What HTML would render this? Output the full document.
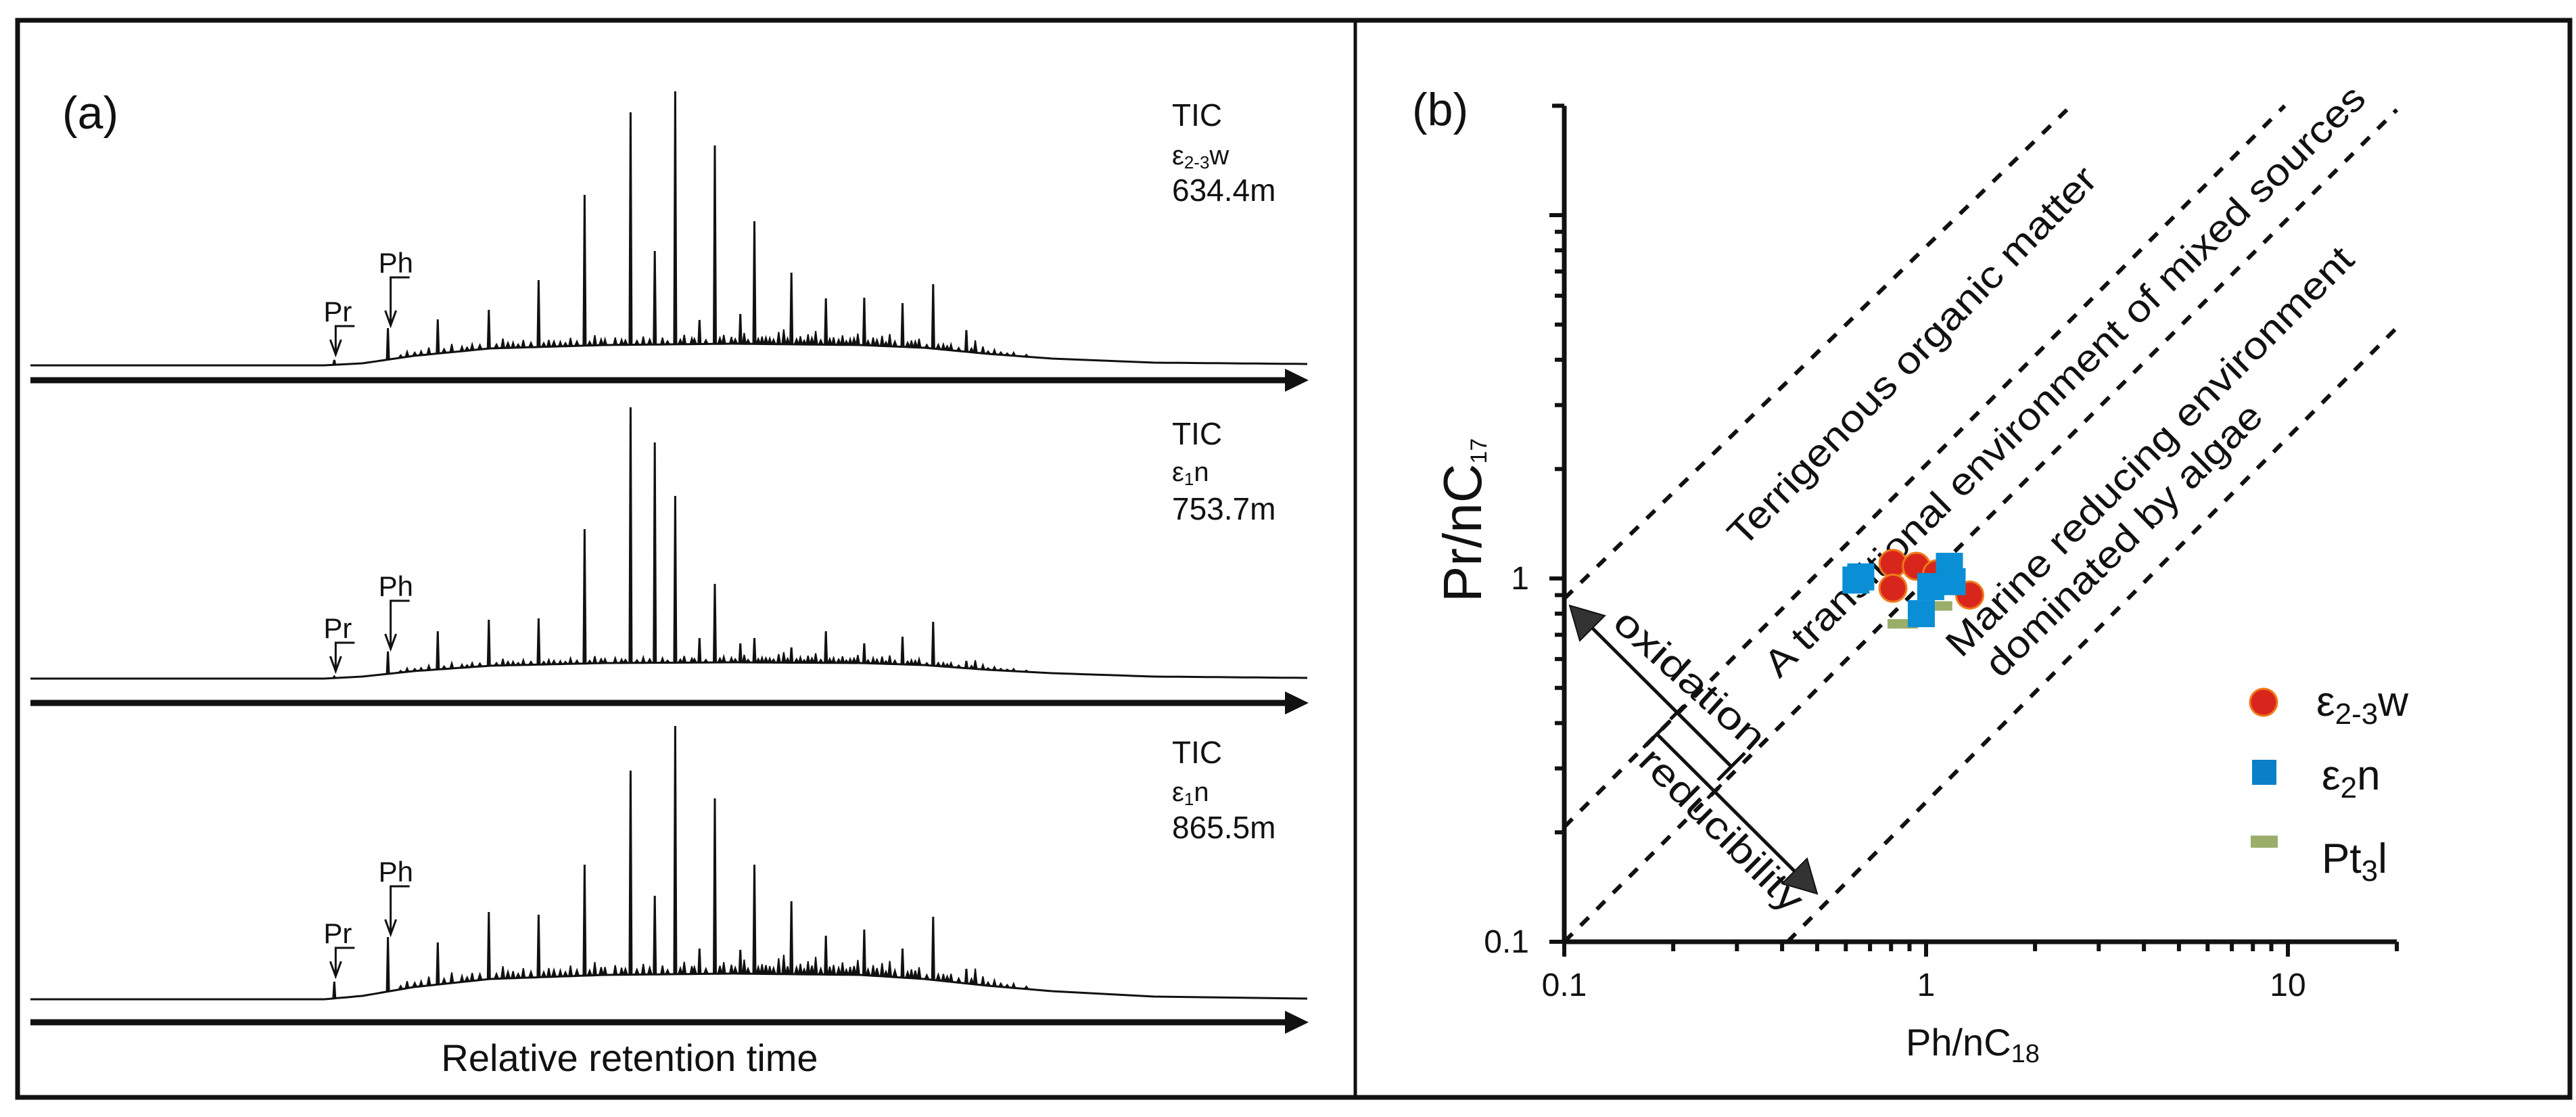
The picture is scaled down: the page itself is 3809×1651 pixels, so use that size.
<!DOCTYPE html>
<html><head><meta charset="utf-8">
<style>
html,body{margin:0;padding:0;background:#fff;}
svg{display:block;}
text{font-family:"Liberation Sans",Arial,sans-serif;fill:#111;}
.nar{font-family:"Liberation Sans Narrow","Liberation Sans",sans-serif;}
</style></head>
<body>
<svg id="fig" width="3809" height="1651" viewBox="0 0 3809 1651" xmlns="http://www.w3.org/2000/svg">
<rect x="26" y="30" width="3774" height="1592" fill="none" stroke="#111" stroke-width="7"/>
<line x1="2004" y1="30" x2="2004" y2="1622" stroke="#111" stroke-width="5"/>
<text x="92" y="190" font-size="68">(a)</text>
<text x="2088" y="185" font-size="68">(b)</text>
<g id="chroms"></g>
<g class="nar">
<text x="1733" y="186" font-size="46">TIC</text>
<text x="1733" y="243" font-size="40">ε<tspan font-size="26" dy="6">2-3</tspan><tspan dy="-6">w</tspan></text>
<text x="1733" y="297" font-size="46">634.4m</text>
<text x="1733" y="657" font-size="46">TIC</text>
<text x="1733" y="711" font-size="40">ε<tspan font-size="26" dy="6">1</tspan><tspan dy="-6">n</tspan></text>
<text x="1733" y="768" font-size="46">753.7m</text>
<text x="1733" y="1128" font-size="46">TIC</text>
<text x="1733" y="1184" font-size="40">ε<tspan font-size="26" dy="6">1</tspan><tspan dy="-6">n</tspan></text>
<text x="1733" y="1239" font-size="46">865.5m</text>
</g>
<text x="931" y="1583" font-size="56" text-anchor="middle" class="nar">Relative retention time</text>
<g id="plotb"></g>
</svg>
<script>
// ---------- Panel (a) data ----------
const alkaneRt = [31.9,35.9,39.8,43.4,47.0,48.9,50.5,52.4,53.6,55.6,56.7,59.6,62.3,65.3,68.3,70.7,73.3];
const alkaneH1 = [68,82,126,252,374,169,405,67,325,76,213,137,99,100,92,120,52];
const alkaneH2 = [70,87,89,221,401,349,270,60,140,52,60,46,70,52,62,84,26];
const alkaneH3 = [84,129,125,199,338,153,404,75,297,73,199,145,94,103,75,122,45];
const prRt = 23.8, phRt = 28.0;
const prH = [8,3,26];
const phH = [55,40,92];
const humpRt = [0,23,26,30,36,45,55,65,70,75,80,88,100];
const humpH1 = [0,0,3,14,25,30,32,30,26,17,10,4,2];
const humpH2 = [0,0,3,11,19,23,24,23,20,13,8,3,1];
const humpH3 = [0,0,5,18,30,36,38,36,30,20,12,4,1];
const minorRt = [29.5,30.6,31.2,33.0,33.8,34.6,37.0,37.8,38.6,40.6,41.5,42.3,44.2,45.0,45.8,46.3,48.0,49.5,51.2,51.8,54.3,54.9,55.9,57.3,57.9,58.6,59.0,60.3,60.9,61.5,62.9,63.6,64.2,64.8,66.0,66.7,67.3,69.0,69.6,71.5,72.1,74.0,74.6,75.5,77.0];
const minorH = [8,6,10,12,7,9,14,8,11,10,7,12,15,9,11,8,12,10,14,9,13,10,16,11,9,18,22,12,15,20,11,14,9,17,12,15,18,10,13,8,9,18,10,7,5];
const noiseRt = [29.0,30.1,32.4,34.2,35.2,36.5,37.4,38.2,39.2,40.2,41.0,41.9,42.8,43.8,44.7,46.6,47.5,48.5,49.9,50.9,52.0,52.9,54.0,55.2,56.2,57.0,57.6,58.2,59.3,60.0,60.6,61.2,61.9,62.6,63.3,63.9,64.5,65.6,66.3,67.0,67.7,68.7,69.3,70.2,71.1,71.8,72.7,73.7,75.0,76.0,76.5,78.0];
const noiseH = [4,5,6,5,7,6,8,5,7,6,8,5,7,6,9,7,6,8,5,7,8,6,9,7,6,8,10,7,9,8,6,10,7,9,8,6,10,7,9,6,8,7,9,5,7,6,5,6,4,4,3,3];
const minorScale = [1.0,0.7,1.3];

// ---------- Panel (b) data ----------
const w23Ph = [0.81,0.94,0.81,1.07,1.32];
const w23Pr = [1.10,1.08,0.94,1.03,0.90];
const e2nPh = [0.66,0.64,1.16,1.03,0.97,1.18];
const e2nPr = [1.01,0.99,1.08,0.95,0.80,0.98];
const pt3Ph = [0.86,1.07];
const pt3Pr = [0.75,0.84];
const lineX1 = [0.1,0.1,0.1,0.414];
const lineY1 = [0.88,0.207,0.1,0.1];
const lineX2 = [2.45,9.8,20,20];
const lineY2 = [19.5,20,19.5,4.9];
const xTickLabels = ["0.1","1","10"];
const yTickLabels = ["0.1","1"];

const NS = "http://www.w3.org/2000/svg";
function mk(tag, attrs, parent){
  const e = document.createElementNS(NS, tag);
  for (const k in attrs) e.setAttribute(k, attrs[k]);
  parent.appendChild(e); return e;
}

// ---- chromatograms ----
const chroms = document.getElementById('chroms');
const baseY = [540,1003,1477];
const arrowY = [562,1039,1511];
const alk = [alkaneH1,alkaneH2,alkaneH3];
const humps = [humpH1,humpH2,humpH3];
function rx(t){ return 45 + t*18.88; }
function humpAt(p,t){
  const h = humps[p];
  for (let i=0;i<humpRt.length-1;i++){
    if (t>=humpRt[i] && t<=humpRt[i+1]){
      const f=(t-humpRt[i])/(humpRt[i+1]-humpRt[i]);
      return h[i]+f*(h[i+1]-h[i]);
    }
  }
  return 0;
}
for (let p=0;p<3;p++){
  const by = baseY[p];
  let d = "M"+rx(0)+","+by;
  for (let t=0;t<=100;t+=0.5){ d += " L"+rx(t).toFixed(1)+","+(by-humpAt(p,t)).toFixed(1); }
  const hp = mk('path',{d:d,fill:'none',stroke:'#111','stroke-width':3},chroms);
  
  
  let pd = "";
  function spike(t,h,w){
    const x=rx(t), yb=by-humpAt(p,t);
    pd += " M"+(x-w).toFixed(1)+","+yb.toFixed(1)+" L"+x.toFixed(1)+","+(by-h).toFixed(1)+" L"+(x+w).toFixed(1)+","+yb.toFixed(1);
  }
  for (let i=0;i<minorRt.length;i++){ spike(minorRt[i], humpAt(p,minorRt[i])+minorH[i]*minorScale[p], 2.5); }
  for (let i=0;i<noiseRt.length;i++){ spike(noiseRt[i], humpAt(p,noiseRt[i])+noiseH[i]*minorScale[p], 3); }
  const mp = mk('path',{d:pd,fill:'#111',stroke:'#111','stroke-width':2},chroms);
  
  
  pd = "";
  for (let i=0;i<alkaneRt.length;i++){ spike(alkaneRt[i], alk[p][i], 1.5); }
  spike(prRt, prH[p], 1.5); spike(phRt, phH[p], 1.5);
  const ap = mk('path',{d:pd,fill:'#111',stroke:'#111','stroke-width':3},chroms);
  
  
  const ay = arrowY[p];
  const al = mk('line',{x1:45,y1:ay,x2:1905,y2:ay,stroke:'#111','stroke-width':9},chroms);
  
  
  const ah = mk('path',{d:"M1900,"+(ay-17)+" L1935,"+ay+" L1900,"+(ay+17)+" z",fill:'#111'},chroms);
  
  
  const prX = rx(prRt)+2, phX = rx(phRt)+4;
  const prTopY = by-prH[p]-50, phTopY = by-phH[p]-75;
  const prTip = by - prH[p] - 8, phTip = by - phH[p] - 4;
  const labs = [["Pr",prX,prTopY,prTip],["Ph",phX,phTopY,phTip]];
  for (const L of labs){
    const t = mk('text',{x:L[1]-18,y:L[2]-7,'font-size':42,class:'nar'},chroms);
    t.textContent = L[0];
    
    
    const bp = mk('path',{d:"M"+(L[1]+28)+","+L[2]+" L"+L[1]+","+L[2]+" L"+L[1]+","+L[3]+" M"+(L[1]-8)+","+(L[3]-22)+" L"+L[1]+","+L[3]+" L"+(L[1]+8)+","+(L[3]-22),fill:'none',stroke:'#111','stroke-width':3},chroms);
    
    
  }
}

// ---- crossplot ----
const g = document.getElementById('plotb');
const X0=2313, Y0=1392, DX=535, DY=537;
function xs(v){ return X0 + (Math.log10(v)+1)*DX; }
function ys(v){ return Y0 - (Math.log10(v)+1)*DY; }
for (let i=0;i<lineX1.length;i++){
  const l = mk('line',{x1:xs(lineX1[i]),y1:ys(lineY1[i]),x2:xs(lineX2[i]),y2:ys(lineY2[i]),stroke:'#111','stroke-width':6,'stroke-dasharray':'17 17'},g);
  
  
}
const ax = mk('path',{d:"M"+X0+","+ys(20)+" L"+X0+","+Y0+" L"+xs(20)+","+Y0,fill:'none',stroke:'#111','stroke-width':7},g);


let tk="";
for (let dec=0.1; dec<=10; dec*=10){
  for (let m=1;m<=9;m++){
    const v=dec*m; if (v>20.01) break;
    const xL = (m===1)?22:14;
    tk += " M"+xs(v).toFixed(1)+","+Y0+" l0,"+xL;
    tk += " M"+X0+","+ys(v).toFixed(1)+" l-"+xL+",0";
  }
}
tk += " M"+xs(20)+","+Y0+" l0,14 M"+X0+","+ys(20)+" l-18,0";
const tp = mk('path',{d:tk,stroke:'#111','stroke-width':6,fill:'none'},g);


const xTickVals=[0.1,1,10];
for (let i=0;i<xTickLabels.length;i++){
  const t=mk('text',{x:xs(xTickVals[i]),y:Y0+80,'font-size':48,'text-anchor':'middle'},g);
  t.textContent=xTickLabels[i];
  
  
}
const yTickVals=[0.1,1];
for (let i=0;i<yTickLabels.length;i++){
  const t=mk('text',{x:X0-52,y:ys(yTickVals[i])+16,'font-size':48,'text-anchor':'end'},g);
  t.textContent=yTickLabels[i];
  
  
}
const xt=mk('text',{x:2818,y:1560,'font-size':56},g);
xt.innerHTML='Ph/nC<tspan font-size="38" dy="10">18</tspan>';


const yt=mk('text',{x:2190,y:890,'font-size':80,transform:'rotate(-90 2190 890)'},g);
yt.innerHTML='Pr/nC<tspan font-size="34" dy="8">17</tspan>';


const regions=[["Terrigenous organic matter",2578,811,3104,268],["A transitional environment of mixed sources",2631,1004,3501,149],["Marine reducing environment",2900,974,3484,387],["dominated by algae",2958,1004,3349,619],["oxidation",2382,925,2590,1112],["reducibility",2420,1128,2645,1352]];
for (const r of regions){
  const dx=r[3]-r[1], dy=r[4]-r[2];
  const ang=Math.atan2(dy,dx)*180/Math.PI, len=Math.hypot(dx,dy);
  const t=mk('text',{x:r[1],y:r[2],'font-size':56,textLength:len.toFixed(0),lengthAdjust:'spacingAndGlyphs',transform:'rotate('+ang.toFixed(2)+' '+r[1]+' '+r[2]+')'},g);
  t.textContent=r[0];
  
  
}
const ar = mk('path',{d:"M2323,897 L2560,1133 M2540,1153 L2580,1113 M2470,1063 L2490,1043 M2450,1085 L2683,1317 M2430,1105 L2470,1065 M2525,1180 L2545,1160",stroke:'#111','stroke-width':5,fill:'none'},g);


const ah1 = mk('path',{d:"M2321,895 L2336,947 L2373,910 z",fill:'#333',stroke:'#111','stroke-width':2},g);


const ah2 = mk('path',{d:"M2687,1321 L2672,1269 L2635,1306 z",fill:'#333',stroke:'#111','stroke-width':2},g);


for (let i=0;i<pt3Ph.length;i++){
  const r=mk('rect',{x:xs(pt3Ph[i])-22,y:ys(pt3Pr[i])-7,width:45,height:14,fill:'#9aae6a'},g);
  
  
}
for (let i=0;i<w23Ph.length;i++){
  const c=mk('circle',{cx:xs(w23Ph[i]),cy:ys(w23Pr[i]),r:20,fill:'#d9261c',stroke:'#f07a1a','stroke-width':3},g);
  
  
}
for (let i=0;i<e2nPh.length;i++){
  const r=mk('rect',{x:xs(e2nPh[i])-20,y:ys(e2nPr[i])-20,width:40,height:40,fill:'#0a8fd6'},g);
  
  
}
const lg = mk('g',{},g);


const l1=mk('circle',{cx:3347,cy:1038,r:20,fill:'#d9261c',stroke:'#f07a1a','stroke-width':3},lg);


const l2=mk('rect',{x:3330,y:1123,width:36,height:37,fill:'#0a80c8'},lg);


const l3=mk('rect',{x:3328,y:1235,width:40,height:18,fill:'#9aae6a'},lg);


const t1=mk('text',{x:3425,y:1058,'font-size':62},lg);
t1.innerHTML='ε<tspan font-size="44" dy="12">2-3</tspan><tspan dy="-12">w</tspan>';


const t2=mk('text',{x:3433,y:1167,'font-size':62},lg);
t2.innerHTML='ε<tspan font-size="44" dy="12">2</tspan><tspan dy="-12">n</tspan>';


const t3=mk('text',{x:3433,y:1290,'font-size':62},lg);
t3.innerHTML='Pt<tspan font-size="44" dy="12">3</tspan><tspan dy="-12">l</tspan>';


</script>
</body></html>
